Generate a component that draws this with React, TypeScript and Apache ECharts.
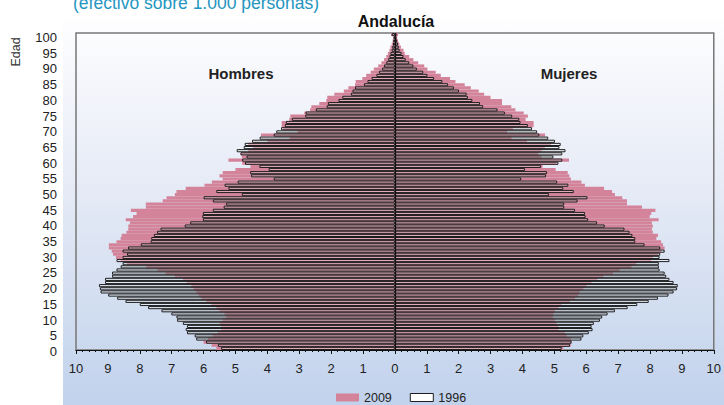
import React, { useEffect, useRef } from "react";
import * as echarts from "echarts";

const ages: string[] = Array.from({ length: 101 }, (_, i) => String(i));

const men2009 = [
  5.6, 5.75, 6.0, 5.86, 5.71, 5.55, 5.45, 5.45, 5.5, 5.4,
  5.29, 5.34, 5.5, 5.6, 5.76, 5.92, 6.07, 6.15, 6.23, 6.31,
  6.38, 6.53, 6.65, 6.9, 7.19, 7.44, 7.8, 8.4, 8.6, 8.75,
  8.84, 8.88, 8.97, 8.97, 8.73, 8.6, 8.57, 8.42, 8.36, 8.36,
  8.31, 8.44, 8.21, 8.1, 8.28, 7.81, 7.81, 7.28, 7.16, 6.9,
  6.85, 6.56, 5.97, 5.74, 5.4, 5.5, 5.4, 5.0, 4.53, 4.79,
  5.22, 4.8, 4.84, 4.6, 4.45, 4.6, 4.0, 3.3, 4.2, 3.05,
  3.5, 3.55, 3.55, 3.31, 3.28, 2.84, 2.66, 2.62, 2.37, 2.15,
  2.12, 1.9, 1.6, 1.46, 1.25, 1.23, 1.02, 0.9, 0.76, 0.66,
  0.52, 0.42, 0.34, 0.27, 0.22, 0.17, 0.14, 0.1, 0.07, 0.05,
  0.12,
];

const men1996 = [
  5.45, 5.55, 5.92, 6.23, 6.28, 6.52, 6.56, 6.52, 6.65, 6.83,
  6.85, 7.01, 7.32, 7.74, 8.0, 8.45, 8.71, 8.99, 9.23, 9.25,
  9.28, 9.09, 9.09, 8.87, 8.87, 8.73, 8.6, 8.54, 8.73, 8.54,
  8.4, 8.54, 8.37, 7.97, 7.66, 7.64, 7.56, 7.46, 7.35, 6.59,
  6.42, 6.02, 6.04, 6.02, 5.71, 5.37, 5.29, 5.71, 6.0, 4.8,
  5.6, 5.22, 5.34, 4.93, 3.8, 4.51, 4.54, 3.96, 4.25, 4.7,
  4.79, 4.65, 4.84, 4.96, 4.74, 4.71, 4.48, 4.24, 3.8, 3.72,
  3.57, 3.45, 3.42, 3.23, 2.81, 2.8, 2.48, 2.14, 2.1, 1.77,
  1.65, 1.38, 1.33, 1.25, 0.97, 0.86, 0.73, 0.58, 0.5, 0.4,
  0.34, 0.27, 0.21, 0.17, 0.14, 0.1, 0.08, 0.06, 0.05, 0.04,
  0.1,
];

const women2009 = [
  5.28, 5.52, 5.54, 5.52, 5.39, 5.33, 5.13, 5.13, 5.07, 5.02,
  4.95, 4.97, 5.02, 5.13, 5.23, 5.49, 5.65, 5.75, 5.8, 5.91,
  6.01, 6.17, 6.35, 6.53, 6.84, 7.05, 7.42, 7.57, 8.04, 8.09,
  8.25, 8.35, 8.46, 8.41, 8.35, 8.2, 8.25, 8.09, 8.06, 8.09,
  8.06, 8.27, 7.99, 8.04, 8.17, 7.75, 7.28, 7.28, 7.13, 6.9,
  6.81, 6.56, 5.96, 5.85, 5.52, 5.47, 5.42, 5.04, 4.63, 5.07,
  5.46, 4.6, 4.5, 4.6, 4.7, 4.9, 4.14, 3.66, 4.71, 3.52,
  3.7, 4.35, 4.35, 4.1, 4.17, 4.04, 3.78, 3.65, 3.36, 3.36,
  3.0, 2.8, 2.63, 2.38, 2.19, 1.9, 1.73, 1.44, 1.28, 1.02,
  0.92, 0.73, 0.58, 0.45, 0.31, 0.27, 0.19, 0.14, 0.1, 0.07,
  0.1,
];

const women1996 = [
  5.23, 5.49, 5.54, 5.85, 5.91, 6.08, 6.2, 6.17, 6.24, 6.43,
  6.5, 6.67, 6.9, 7.3, 7.6, 7.96, 8.25, 8.58, 8.74, 8.85,
  8.87, 8.74, 8.61, 8.51, 8.46, 8.3, 8.28, 8.28, 8.61, 8.3,
  8.32, 8.46, 8.32, 7.83, 7.54, 7.54, 7.45, 7.36, 7.2, 6.58,
  6.34, 6.06, 5.98, 5.96, 5.65, 5.31, 5.31, 5.73, 6.04, 4.83,
  5.61, 5.28, 5.44, 5.09, 3.96, 4.74, 4.77, 4.08, 4.58, 5.13,
  5.25, 4.97, 5.25, 5.35, 5.16, 5.2, 5.02, 4.81, 4.53, 4.46,
  4.3, 4.17, 3.94, 3.9, 3.68, 3.45, 3.22, 2.77, 2.67, 2.43,
  2.29, 2.25, 2.01, 1.85, 1.67, 1.49, 1.23, 1.02, 0.89, 0.69,
  0.58, 0.45, 0.34, 0.27, 0.21, 0.15, 0.12, 0.1, 0.07, 0.05,
  0.05,
];

const PINK = "#d3849b";
const FONT = "'Liberation Sans', Arial, sans-serif";

export default function App() {
  const ref = useRef<HTMLDivElement>(null);

  useEffect(() => {
    if (!ref.current) return;
    const chart = echarts.init(ref.current, undefined, { renderer: "svg" });

    const outline = {
      color: "rgba(255,255,255,0.3)",
      borderColor: "#1e1e1e",
      borderWidth: 1,
    };

    chart.setOption({
      animation: false,
      textStyle: { fontFamily: FONT },
      graphic: [
        {
          type: "rect",
          z: -10,
          silent: true,
          shape: { x: 63, y: 12, width: 661, height: 393 },
          style: {
            fill: new echarts.graphic.LinearGradient(0, 0, 0, 1, [
              { offset: 0, color: "#ffffff" },
              { offset: 0.25, color: "#f1f3fa" },
              { offset: 0.6, color: "#dce4f3" },
              { offset: 1, color: "#c1d2ec" },
            ]),
          },
        },
        {
          type: "text",
          left: 73,
          top: -6,
          style: {
            text: "(efectivo sobre 1.000 personas)",
            fontSize: 17.5,
            fontFamily: FONT,
            fill: "#2596bf",
          },
        },
        {
          type: "text",
          x: 396,
          y: 21,
          style: {
            text: "Andalucía",
            fontSize: 16,
            fontWeight: "bold",
            fontFamily: FONT,
            fill: "#111",
            align: "center",
            verticalAlign: "middle",
          },
        },
        {
          type: "text",
          x: 241,
          y: 73,
          style: {
            text: "Hombres",
            fontSize: 15,
            fontWeight: "bold",
            fontFamily: FONT,
            fill: "#222",
            align: "center",
            verticalAlign: "middle",
          },
        },
        {
          type: "text",
          x: 569,
          y: 73,
          style: {
            text: "Mujeres",
            fontSize: 15,
            fontWeight: "bold",
            fontFamily: FONT,
            fill: "#222",
            align: "center",
            verticalAlign: "middle",
          },
        },
        {
          type: "text",
          x: 16,
          y: 52,
          rotation: Math.PI / 2,
          style: {
            text: "Edad",
            fontSize: 12.5,
            fontFamily: FONT,
            fill: "#333",
            align: "center",
            verticalAlign: "middle",
          },
        },
      ],
      legend: {
        data: [
          { name: "2009" },
          {
            name: "1996",
            itemStyle: { color: "#ffffff", borderColor: "#1e1e1e", borderWidth: 1 },
          },
        ],
        left: 336,
        top: 391,
        padding: 0,
        itemWidth: 23,
        itemHeight: 8,
        itemGap: 18,
        icon: "rect",
        textStyle: { fontSize: 12.5, color: "#222", fontFamily: FONT },
        selectedMode: false,
      },
      grid: {
        left: 76,
        right: 8,
        top: 33,
        bottom: 55,
        show: true,
        borderColor: "#777",
        borderWidth: 1.5,
        backgroundColor: "transparent",
      },
      xAxis: {
        type: "value",
        min: -10,
        max: 10,
        interval: 1,
        axisLine: { show: true, onZero: false, lineStyle: { color: "#111", width: 1 } },
        axisTick: { show: true, length: 4, lineStyle: { color: "#111" } },
        minorTick: { show: true, splitNumber: 5, length: 2, lineStyle: { color: "#111" } },
        splitLine: { show: false },
        axisLabel: {
          margin: 12,
          fontSize: 13,
          color: "#222",
          fontFamily: FONT,
          formatter: (v: number) => String(Math.abs(v)),
        },
      },
      yAxis: {
        type: "category",
        data: ages,
        boundaryGap: true,
        axisLine: { show: false },
        axisTick: { show: false },
        splitLine: { show: false },
        axisLabel: {
          interval: 4,
          margin: 19,
          fontSize: 13,
          color: "#222",
          fontFamily: FONT,
          verticalAlign: "top",
          lineHeight: 6,
        },
      },
      series: [
        {
          name: "2009",
          type: "bar",
          data: men2009.map((v) => -v),
          barGap: "-100%",
          barCategoryGap: "0%",
          itemStyle: { color: PINK },
        },
        {
          name: "2009",
          type: "bar",
          data: women2009,
          barGap: "-100%",
          barCategoryGap: "0%",
          itemStyle: { color: PINK },
        },
        {
          name: "1996",
          type: "bar",
          data: men1996.map((v) => -v),
          barGap: "-100%",
          barCategoryGap: "0%",
          itemStyle: outline,
        },
        {
          name: "1996",
          type: "bar",
          data: women1996,
          barGap: "-100%",
          barCategoryGap: "0%",
          itemStyle: outline,
          markLine: {
            silent: true,
            symbol: "none",
            label: { show: false },
            lineStyle: { color: "#111", type: "solid", width: 1.2 },
            data: [{ xAxis: 0 }],
          },
        },
      ],
    });

    return () => chart.dispose();
  }, []);

  return <div ref={ref} style={{ width: 724, height: 405, position: "absolute", left: 0, top: 0 }} />;
}
